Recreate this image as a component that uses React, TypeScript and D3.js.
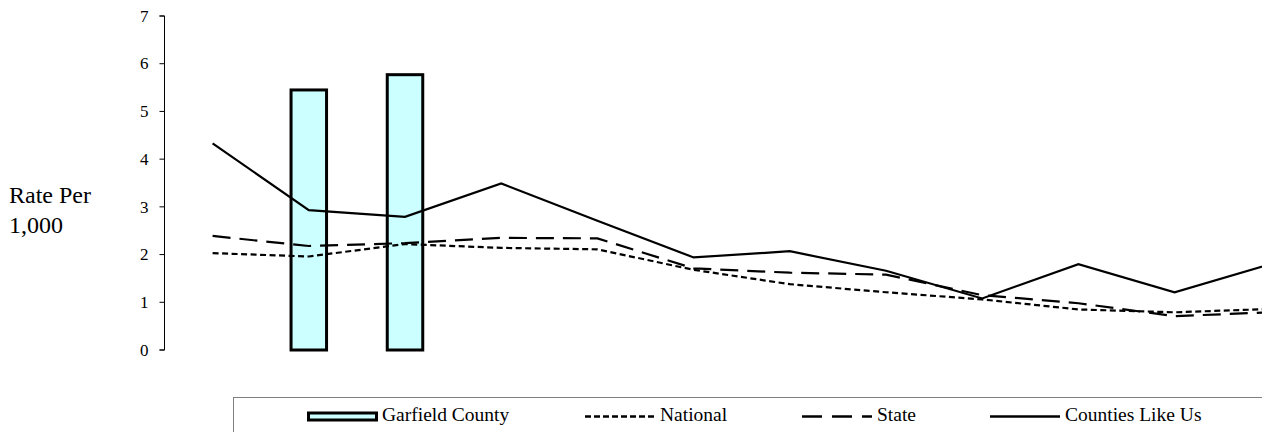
import React from "react";
import * as d3 from "d3";

const categories = ["P1", "P2", "P3", "P4", "P5", "P6", "P7", "P8", "P9", "P10", "P11", "P12"];
const garfield: (number | null)[] = [null, 5.45, 5.77, null, null, null, null, null, null, null, null, null];
const national = [2.03, 1.96, 2.22, 2.14, 2.11, 1.68, 1.38, 1.21, 1.06, 0.85, 0.79, 0.86];
const state = [2.39, 2.18, 2.24, 2.35, 2.34, 1.71, 1.62, 1.58, 1.15, 0.98, 0.71, 0.79];
const countiesLikeUs = [4.33, 2.93, 2.79, 3.49, 2.71, 1.94, 2.07, 1.66, 1.08, 1.8, 1.21, 1.8];
const yTicks = [0, 1, 2, 3, 4, 5, 6, 7];
const legendLabels = ["Garfield County", "National", "State", "Counties Like Us"];

const W = 1262;
const H = 432;
const FONT = '"Liberation Serif"';

const left = 164.5;
const step = 96.2;
const x = d3.scaleBand<string>().domain(categories).range([left, left + step * categories.length]).padding(0);
const y = d3.scaleLinear().domain([0, 7]).range([350, 16]);
const cx = (c: string) => (x(c) as number) + x.bandwidth() / 2;
const line = d3
  .line<number>()
  .x((_, i) => cx(categories[i]))
  .y((d) => y(d));

const series = [
  { name: "National", data: national, dash: "6,3.5" },
  { name: "State", data: state, dash: "18,9" },
  { name: "Counties Like Us", data: countiesLikeUs, dash: undefined as string | undefined },
];

const barW = 35.5;
const symX = [307, 585, 802, 990];
const legendDash = [undefined, "6,3", "20,10", undefined];

export default function App() {
  const fmt = d3.format("d");
  return (
    <svg width={W} height={H} style={{ position: "absolute", left: 0, top: 0, background: "#fff", overflow: "hidden" }}>
      {/* Y axis */}
      <path d={`M${left - 5},${y(7)}H${left}V${y(0)}H${left - 5}`} fill="none" stroke="#000" strokeWidth={1} />
      {yTicks.map((t) => (
        <g key={t}>
          <line x1={left - 5} x2={left} y1={y(t)} y2={y(t)} stroke="#000" strokeWidth={1} />
          <text
            x={left - 16}
            y={y(t)}
            dy="0.34em"
            textAnchor="end"
            style={{ fontFamily: FONT, fontSize: "17px" }}
            fill="#000"
          >
            {fmt(t)}
          </text>
        </g>
      ))}
      <text style={{ fontFamily: FONT, fontSize: "24px" }} fill="#000">
        <tspan x={9} y={203}>Rate Per</tspan>
        <tspan x={9} y={233}>1,000</tspan>
      </text>

      {/* Bars */}
      {categories.map((c, i) =>
        garfield[i] == null ? null : (
          <rect
            key={c}
            x={cx(c) - barW / 2}
            width={barW}
            y={y(garfield[i] as number)}
            height={y(0) - y(garfield[i] as number)}
            fill="#CCFFFF"
            stroke="#000"
            strokeWidth={3}
          />
        )
      )}

      {/* Lines */}
      {series.map((s) => (
        <path
          key={s.name}
          d={line(s.data) as string}
          fill="none"
          stroke="#000"
          strokeWidth={2.2}
          strokeDasharray={s.dash}
        />
      ))}

      {/* Legend */}
      <rect x={233.5} y={397.5} width={1200} height={100} fill="none" stroke="#7f7f7f" strokeWidth={1} />
      <rect x={symX[0] + 1.5} y={413} width={68} height={7} fill="#CCFFFF" stroke="#000" strokeWidth={3} />
      {[1, 2, 3].map((i) => (
        <line
          key={i}
          x1={symX[i]}
          x2={symX[i] + 70}
          y1={416.5}
          y2={416.5}
          stroke="#000"
          strokeWidth={2.5}
          strokeDasharray={legendDash[i]}
        />
      ))}
      {legendLabels.map((t, i) => (
        <text key={t} x={symX[i] + 75} y={420.5} style={{ fontFamily: FONT, fontSize: "19.5px" }} fill="#000">
          {t}
        </text>
      ))}
    </svg>
  );
}
